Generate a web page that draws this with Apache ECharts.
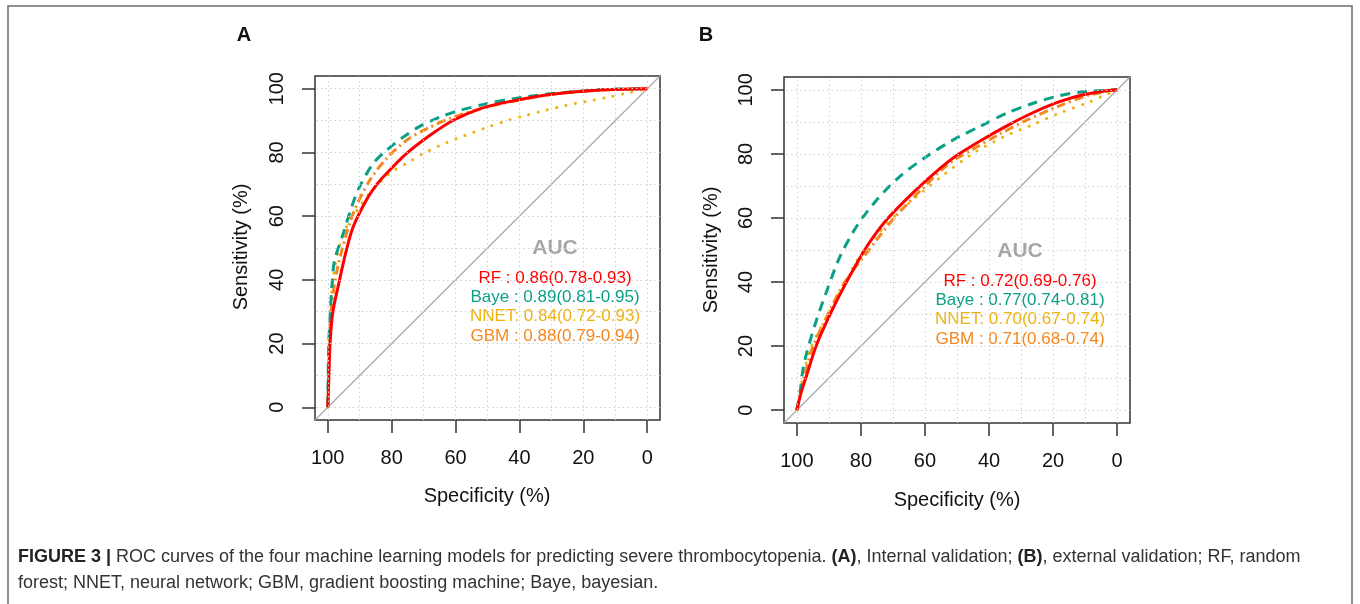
<!DOCTYPE html>
<html>
<head>
<meta charset="utf-8">
<script src="https://cdn.jsdelivr.net/npm/echarts@6/dist/echarts.min.js"></script>
<style>
html,body{margin:0;padding:0;background:#fff;}
#chart{width:1360px;height:604px;}
</style>
</head>
<body>
<div id="chart"></div>
<script>
// ---- data ----
const tickValues = [0, 20, 40, 60, 80, 100];
const gridValues = [0, 10, 20, 30, 40, 50, 60, 70, 80, 90, 100];
const seriesNames = ['RF', 'Baye', 'NNET', 'GBM'];
const seriesColors = ['#FF0000', '#0A9F86', '#EEB20E', '#F6871E'];
const diagonal = [[104, -4], [-4, 104]];

// Panel A (internal validation): [specificity, sensitivity]
const rfA = [[100,0],[99.7,8],[99.3,20],[98.4,30],[96.3,40],[94.5,48],[92.1,56.5],[88,64.9],[85,69.5],[81.7,73.3],[75.4,79.6],[68.1,85.3],[60.7,90.1],[52.4,93.7],[44,95.8],[30.4,98.2],[14.7,99.6],[0,100]];
const bayeA = [[100,0],[99.9,8],[99.7,20],[99.2,30],[98.7,38],[97.9,46],[95,55],[92.5,63],[90.1,69.1],[85.9,76.4],[81.7,80.6],[76.4,84.8],[71.2,88.2],[64.9,91.1],[58.6,93.2],[50.3,95.3],[41.9,96.9],[30.4,98.4],[14.7,99.7],[0,100]];
const nnetA = [[100,0],[99.8,8],[99.6,20],[99.2,30],[98.4,40],[96.5,50],[93.5,58],[90,63],[87.1,67],[80.1,73.8],[74.6,77],[68.9,80.3],[63,83],[57.1,85.3],[50.8,87.6],[44.5,89.8],[38.2,91.6],[32,93.2],[25.7,94.7],[19.1,96],[12.9,97.2],[6.4,98.6],[0,100]];
const gbmA = [[100,0],[99.8,8],[99.5,20],[99,30],[96.9,44],[92.1,60.7],[86.9,71.2],[81.7,78],[75.4,83.8],[69.1,87.4],[60.7,91.1],[50.3,94.2],[41.9,96.1],[30.4,98.2],[14.7,99.6],[0,100]];

// Panel B (external validation)
const rfB = [[100,0],[98.5,6],[96.9,11],[93.8,20.5],[88.6,32],[83.4,42],[78.2,51],[71.9,59.5],[63.6,68],[55.3,75.5],[50.1,79.5],[42,84.5],[34,89],[26,93],[18,96.3],[10,98.6],[4,99.6],[0,100]];
const bayeB = [[100,0],[99,5.4],[98.2,12],[96.9,18],[93.8,28.3],[90.1,38.7],[86.5,48],[81.3,57.4],[75,65.7],[67.8,73],[59.5,79.2],[51.1,84.4],[42.8,88.6],[34.5,92.7],[26.2,95.8],[17.9,98.2],[10.6,99.4],[0,100]];
const nnetB = [[100,0],[98.8,7],[95.8,19],[90.5,29.5],[84.8,40],[79.4,49.7],[74,55.8],[68.3,61.7],[60.5,68.4],[55.3,72.6],[44.9,80.2],[35,85.5],[26.2,89.2],[17.9,92.8],[9.6,95.8],[4,98.3],[0,100]];
const gbmB = [[100,0],[98.5,7],[95.3,19],[90.5,29.5],[85,40],[77.5,50],[70,59.5],[61,69],[52.7,76.8],[45,81.5],[37,86],[28.3,90.5],[18,95],[9,98.3],[0,100]];

const aucLabelsA = ['RF : 0.86(0.78-0.93)', 'Baye : 0.89(0.81-0.95)', 'NNET: 0.84(0.72-0.93)', 'GBM : 0.88(0.79-0.94)'];
const aucLabelsB = ['RF : 0.72(0.69-0.76)', 'Baye : 0.77(0.74-0.81)', 'NNET: 0.70(0.67-0.74)', 'GBM : 0.71(0.68-0.74)'];
const panelLabels = ['A', 'B'];
const xTitle = 'Specificity (%)';
const yTitle = 'Sensitivity (%)';
const captionLine1 = ['FIGURE 3 |', ' ROC curves of the four machine learning models for predicting severe thrombocytopenia. ', '(A)', ', Internal validation; ', '(B)', ', external validation; RF, random'];
const captionLine2 = 'forest; NNET, neural network; GBM, gradient boosting machine; Baye, bayesian.';

// ---- styles ----
const FONT = '"Liberation Sans", Arial, Helvetica, sans-serif';
const lineStyles = [
  {width: 3, type: 'solid'},
  {width: 3, type: [10, 7]},
  {width: 3, type: [0.1, 9.5], cap: 'round'},
  {width: 3, type: [9, 4, 2, 4]}
];

const chart = echarts.init(document.getElementById('chart'), null, {renderer: 'canvas'});

const grids = [
  {left: 315, top: 76, width: 345, height: 344},
  {left: 784, top: 77, width: 346, height: 346}
];

function xAxisFor(i) {
  return {
    gridIndex: i, type: 'value', inverse: true, min: -4, max: 104,
    axisLine: {show: false, onZero: false},
    axisTick: {show: true, inside: false, customValues: tickValues, length: 13, lineStyle: {color: '#333', width: 1.5}},
    axisLabel: {customValues: tickValues, fontSize: 20, color: '#111', fontFamily: FONT, margin: 28},
    splitLine: {show: false}
  };
}
function yAxisFor(i) {
  return {
    gridIndex: i, type: 'value', min: -4, max: 104,
    axisLine: {show: false, onZero: false},
    axisTick: {show: true, inside: false, customValues: tickValues, length: 13, lineStyle: {color: '#333', width: 1.5}},
    axisLabel: {customValues: tickValues, fontSize: 20, color: '#111', fontFamily: FONT, margin: 28, rotate: 90},
    splitLine: {show: false}
  };
}

function panelSeries(i, curves) {
  const out = [];
  out.push({
    type: 'line', xAxisIndex: i, yAxisIndex: i, data: [], silent: true, z: 1,
    markLine: {
      silent: true, symbol: 'none', label: {show: false}, animation: false,
      lineStyle: {color: '#d0d0d0', type: [1.5, 3], width: 1},
      data: gridValues.map(v => ({xAxis: v})).concat(gridValues.map(v => ({yAxis: v})))
    }
  });
  out.push({
    type: 'line', xAxisIndex: i, yAxisIndex: i, data: diagonal, symbol: 'none', z: 2,
    lineStyle: {color: '#a8a8a8', width: 1.2}, animation: false
  });
  const order = [2, 3, 1, 0];
  order.forEach(k => {
    out.push({
      name: seriesNames[k], type: 'line', xAxisIndex: i, yAxisIndex: i,
      data: curves[k], symbol: 'none', smooth: 0.3, z: 3 + (k === 0 ? 1 : 0),
      lineStyle: Object.assign({color: seriesColors[k]}, lineStyles[k]),
      animation: false
    });
  });
  return out;
}

const graphics = [];
// outer frame
graphics.push({type: 'rect', shape: {x: 8, y: 6, width: 1344, height: 620}, style: {fill: 'none', stroke: '#6b6b6b', lineWidth: 1.5}, silent: true});
// panel labels
[[244, 35], [706, 35]].forEach((p, i) => {
  graphics.push({type: 'text', x: p[0], y: p[1], style: {text: panelLabels[i], font: 'bold 20px ' + FONT, fill: '#111', align: 'center', verticalAlign: 'middle'}});
});
// axis titles
[[487, 496], [957, 500]].forEach(p => {
  graphics.push({type: 'text', x: p[0], y: p[1], style: {text: xTitle, font: '20px ' + FONT, fill: '#111', align: 'center', verticalAlign: 'middle'}});
});
[[241, 247], [711, 250]].forEach(p => {
  graphics.push({type: 'text', x: p[0], y: p[1], rotation: Math.PI / 2, style: {text: yTitle, font: '20px ' + FONT, fill: '#111', align: 'center', verticalAlign: 'middle'}});
});
// AUC legends
function legendBlock(cx, yAuc, yFirst, labels) {
  graphics.push({type: 'text', x: cx, y: yAuc, style: {text: 'AUC', font: 'bold 21px ' + FONT, fill: '#A6A6A6', align: 'center', verticalAlign: 'middle'}});
  labels.forEach((t, k) => {
    graphics.push({type: 'text', x: cx, y: yFirst + k * 19.4, style: {text: t, font: '17px ' + FONT, fill: seriesColors[k], align: 'center', verticalAlign: 'middle'}});
  });
}
legendBlock(555, 248, 278, aucLabelsA);
legendBlock(1020, 251, 281, aucLabelsB);
// caption
graphics.push({
  type: 'text', x: 18, y: 557,
  style: {
    rich: {
      b: {font: 'bold 18px ' + FONT, fill: '#222'},
      n: {font: '18px ' + FONT, fill: '#333'}
    },
    text: captionLine1.map((s, k) => (k === 0 || k === 2 || k === 4) ? '{b|' + s + '}' : '{n|' + s + '}').join(''),
    verticalAlign: 'middle'
  }
});
graphics.push({type: 'text', x: 18, y: 583, style: {text: captionLine2, font: '18px ' + FONT, fill: '#333', verticalAlign: 'middle'}});

const option = {
  backgroundColor: '#fff',
  animation: false,
  grid: grids.map(g => Object.assign({show: true, borderColor: '#333', borderWidth: 1.5, backgroundColor: 'transparent'}, g)),
  xAxis: [xAxisFor(0), xAxisFor(1)],
  yAxis: [yAxisFor(0), yAxisFor(1)],
  series: panelSeries(0, [rfA, bayeA, nnetA, gbmA]).concat(panelSeries(1, [rfB, bayeB, nnetB, gbmB])),
  graphic: graphics
};
chart.setOption(option);
</script>
</body>
</html>
